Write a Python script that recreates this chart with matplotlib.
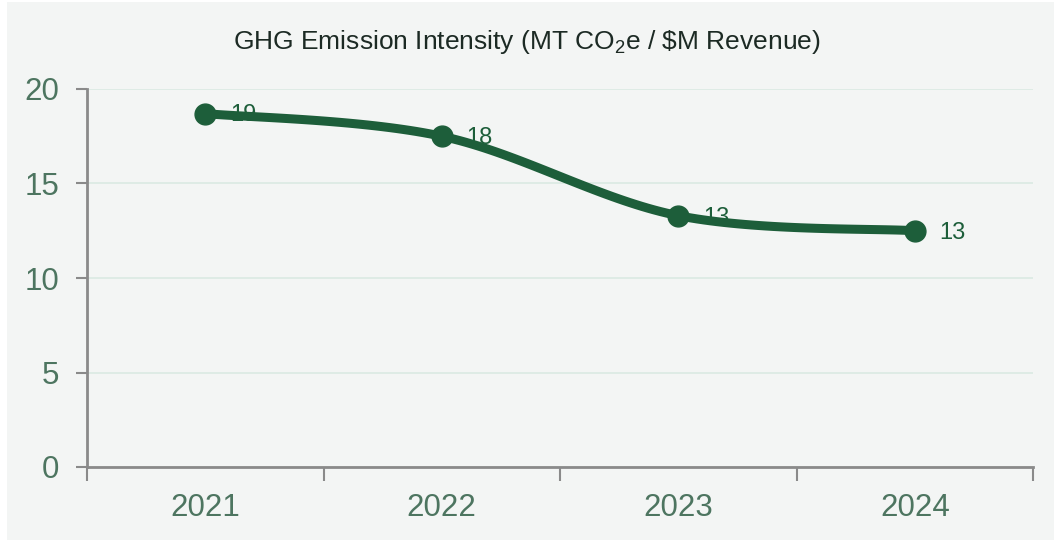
import numpy as np
import matplotlib.pyplot as plt
from matplotlib.patches import Rectangle

# Podatki
years = ['2021', '2022', '2023', '2024']
intensity = [18.7, 17.5, 13.3, 12.5]
labels = ['19', '18', '13', '13']

line_color = '#1d5e3a'
tick_color = '#4d7560'
axis_color = '#8a8a8a'
grid_color = '#dcebe4'
bg_color = '#f3f5f4'


def smooth_curve(x, y, n=40, t=0.5):
    # Catmull-Rom krivulja skozi točke (samo za risanje gladke črte)
    x = np.asarray(x, float)
    y = np.asarray(y, float)
    px = np.concatenate([[x[0]], x, [x[-1]]])
    py = np.concatenate([[y[0]], y, [y[-1]]])
    xs, ys = [], []
    for i in range(1, len(px) - 2):
        s = np.linspace(0, 1, n)
        m1x = t * (px[i + 1] - px[i - 1])
        m2x = t * (px[i + 2] - px[i])
        m1y = t * (py[i + 1] - py[i - 1])
        m2y = t * (py[i + 2] - py[i])
        h00 = 2 * s**3 - 3 * s**2 + 1
        h10 = s**3 - 2 * s**2 + s
        h01 = -2 * s**3 + 3 * s**2
        h11 = s**3 - s**2
        xs.append(h00 * px[i] + h10 * m1x + h01 * px[i + 1] + h11 * m2x)
        ys.append(h00 * py[i] + h10 * m1y + h01 * py[i + 1] + h11 * m2y)
    return np.concatenate(xs), np.concatenate(ys)


plt.rcParams['font.family'] = ['Liberation Sans', 'DejaVu Sans']
plt.rcParams['mathtext.fontset'] = 'custom'
plt.rcParams['mathtext.rm'] = 'Liberation Sans'
plt.rcParams['mathtext.default'] = 'rm'

fig = plt.figure(figsize=(10.54, 5.4), dpi=100)
fig.patch.set_facecolor('white')
fig.patches.append(Rectangle((7 / 1054, 0), 1, 1 - 2 / 540, transform=fig.transFigure,
                             facecolor=bg_color, edgecolor='none', zorder=-10))

ax = fig.add_axes([87 / 1054, 1 - 467 / 540, (1033 - 87) / 1054, (467 - 89) / 540])
ax.set_facecolor(bg_color)

x = np.arange(len(years))
sx, sy = smooth_curve(x, intensity)

# Oznake vrednosti (pod črto)
for xi, yi, lab in zip(x, intensity, labels):
    ax.text(xi + 0.105, yi - 0.1, lab, fontsize=17, color=line_color,
            ha='left', va='center', zorder=2)

ax.plot(sx, sy, color=line_color, lw=6.5, solid_capstyle='round', zorder=3)
ax.plot(x, intensity, 'o', color=line_color, ms=15, zorder=4)

ax.set_xlim(-0.5, len(years) - 0.5)
ax.set_ylim(0, 20)
ax.set_yticks([0, 5, 10, 15, 20])
ax.set_xticks(x)
ax.set_xticklabels(years)
ax.set_xticks(np.arange(-0.5, len(years)), minor=True)

ax.grid(axis='y', color=grid_color, lw=1.3, zorder=1)
ax.set_axisbelow(True)

for side in ['top', 'right']:
    ax.spines[side].set_visible(False)
for side in ['left', 'bottom']:
    ax.spines[side].set_color(axis_color)
    ax.spines[side].set_linewidth(2)

ax.tick_params(axis='y', colors=axis_color, labelcolor=tick_color, labelsize=22.5,
               length=8, width=1.5, pad=12)
ax.tick_params(axis='x', which='major', length=0, labelcolor=tick_color,
               labelsize=22.5, pad=19)
ax.tick_params(axis='x', which='minor', length=10, width=1.5, color=axis_color)

fig.text(0.5, 1 - 42 / 540, 'GHG Emission Intensity (MT CO$_2$e / \\$M Revenue)',
         ha='center', va='center', fontsize=19, color='#1c2a24')

fig.savefig('out.png', dpi=100, facecolor=fig.get_facecolor())
